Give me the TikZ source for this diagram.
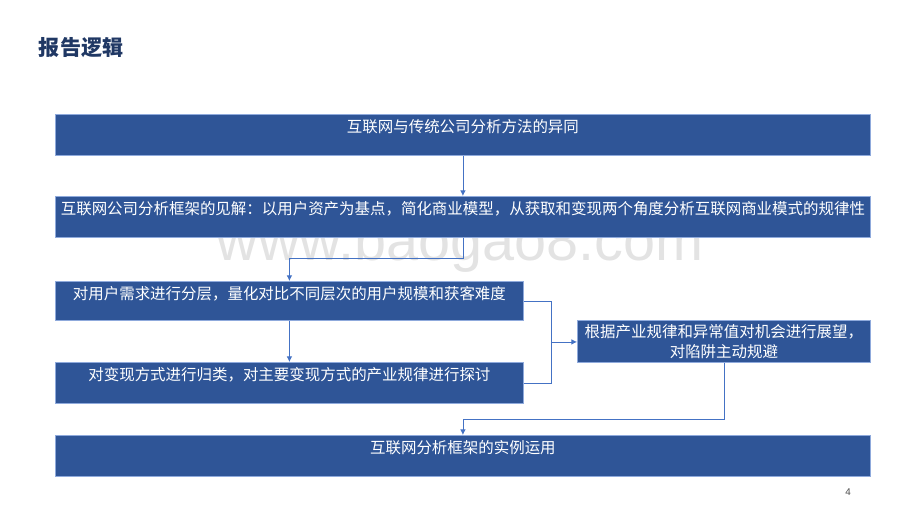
\documentclass[tikz,border=0pt]{standalone}
\usepackage{fontspec}
\setmainfont{Liberation Sans}
\newfontfamily\cjk{Noto Sans CJK SC}
\usepackage{tikz}
\usetikzlibrary{calc}
\usetikzlibrary{positioning}
\usetikzlibrary{arrows.meta}
\definecolor{boxblue}{HTML}{2F5597}
\definecolor{boxedge}{HTML}{8FAADC}
\definecolor{linkblue}{HTML}{4472C4}
\definecolor{titleblue}{HTML}{203864}
\definecolor{markgrey}{HTML}{E3E3E3}
\tikzstyle{stepbox} = [draw=boxedge, line width=0.6pt, fill=boxblue, text=white, inner sep=0pt, anchor=north west, font=\cjk\fontsize{11}{14}\selectfont]
\tikzstyle{topline} = [text height=0.45cm, text depth=0.575cm]
\tikzstyle{link} = [draw=linkblue, line width=0.6pt]
\tikzstyle{arr} = [-{Latex[length=4pt,width=4pt]}]

\begin{document}
\begin{tikzpicture}
  \useasboundingbox (0,0) rectangle (23,-12.95);

  \node[text=markgrey, font=\fontsize{41}{41}\selectfont] (mark) at (11.5,-6.15) {www.baogao8.com};
  \node[anchor=west, text=titleblue, font=\cjk\bfseries\fontsize{15}{18}\selectfont] (title) at (0.85,-1.2) {报告逻辑};

  \node[stepbox, topline, minimum width=20.375cm] (diff) at (1.375,-2.85) {互联网与传统公司分析方法的异同};
  \node[stepbox, topline, minimum width=20.375cm] (frame) at (1.375,-4.9) {互联网公司分析框架的见解：以用户资产为基点，简化商业模型，从获取和变现两个角度分析互联网商业模式的规律性};
  \node[stepbox, text height=0.45cm, text depth=0.525cm, minimum width=11.7cm] (users) at (1.375,-7.025) {对用户需求进行分层，量化对比不同层次的用户规模和获客难度};
  \node[stepbox, topline, minimum width=11.7cm] (cash) at (1.375,-9.05) {对变现方式进行归类，对主要变现方式的产业规律进行探讨};
  \node[stepbox, minimum width=7.325cm, minimum height=1.05cm, align=center] (outlook) at (14.425,-8.0) {根据产业规律和异常值对机会进行展望，\\对陷阱主动规避};
  \node[stepbox, topline, minimum width=20.375cm] (cases) at (1.375,-10.875) {互联网分析框架的实例运用};

  \coordinate (merge) at ($(users.east)!0.5!(cash.east)+(0.7,0)$);

  \draw[link, arr] (diff) -- (frame);
  \draw[link, arr] (frame.south) -- ++(0,-0.525) -| (users.north);
  \draw[link, arr] (users) -- (cash);
  \draw[link] (users.east) -| (merge);
  \draw[link] (cash.east) -| (merge);
  \draw[link, arr] (merge) -- (merge -| outlook.west);
  \draw[link, arr] (outlook.south) |- ($(cases.north)+(0,0.4)$) -- (cases.north);

  \node[text=black!70, font=\fontsize{7}{8}\selectfont] (page) at (21.2,-12.3) {4};
\end{tikzpicture}
\end{document}
